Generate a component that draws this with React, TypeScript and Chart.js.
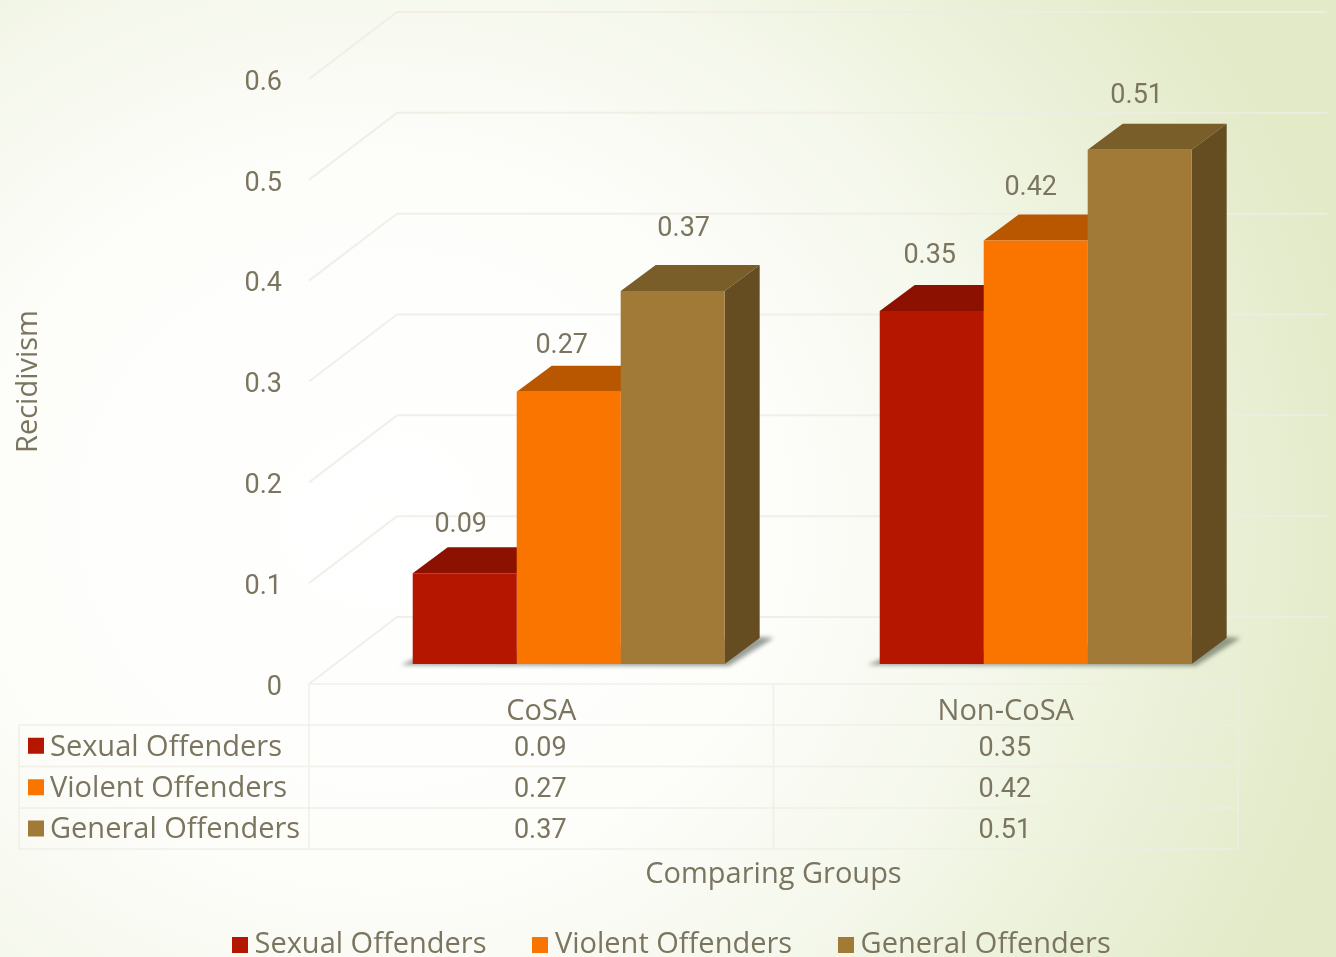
import React, { useEffect, useRef } from "react";
import { Chart, registerables } from "chart.js";

Chart.register(...registerables);

const categories = ["CoSA", "Non-CoSA"];
const sexualOffenders = [0.09, 0.35];
const violentOffenders = [0.27, 0.42];
const generalOffenders = [0.37, 0.51];
const yTicks = [0, 0.1, 0.2, 0.3, 0.4, 0.5, 0.6];

const seriesNames = ["Sexual Offenders", "Violent Offenders", "General Offenders"];
const frontColors = ["#b51600", "#f97500", "#a17a38"];
const topColors = ["#8c1100", "#b95700", "#7a5e2a"];
const sideColors = ["#8c1100", "#b95700", "#654d21"];

const TEXT = "#7b7560";
const GRID = "rgba(238,236,228,0.85)";
const WORD_FONT = "'Open Sans'";
const NUM_FONT = "Roboto";
const WORD_SIZE = 29;
const NUM_SIZE = 27;

// projected depth of the plot floor and of the bars
const WALL = { dx: 88, dy: -67 };
const BAR = { dx: 35, dy: -26 };
const BAR_SHIFT = { x: 26.2, y: -20 };
// label offsets from the top of each bar (dataset, category)
const labelOffsets = [
  [[-4, -48.5], [-2, -55]],
  [[-7, -45.5], [-5, -52.5]],
  [[11, -61.5], [-3, -53.5]],
];

const swatch = (color: string) => {
  const c = document.createElement("canvas");
  c.width = 16;
  c.height = 16;
  const g = c.getContext("2d") as CanvasRenderingContext2D;
  g.fillStyle = color;
  g.fillRect(0, 0, 16, 16);
  return c;
};

const cubePlugin = {
  id: "cube",
  afterLayout(chart: any) {
    const labels = chart.options.plugins.legend.labels;
    chart.legend.top = 958 - 34 - labels.padding + 6;
    chart.legend.left = 239 - labels.padding;
    // the bars sit on a slightly wider hidden band than the data table
    const band = chart.scales.xb;
    band.left = chart.chartArea.left;
    band.right = chart.chartArea.left + 934;
    band.width = 934;
    band.configure();
  },
  beforeDraw(chart: any) {
    const { ctx, chartArea, scales } = chart;
    const y = scales.y;
    ctx.save();
    ctx.strokeStyle = GRID;
    ctx.lineWidth = 2;
    yTicks.forEach((t) => {
      const py = y.getPixelForValue(t);
      ctx.beginPath();
      ctx.moveTo(chartArea.left, py);
      ctx.lineTo(chartArea.left + WALL.dx, py + WALL.dy);
      ctx.lineTo(chartArea.right + WALL.dx + 1, py + WALL.dy);
      ctx.stroke();
    });
    ctx.restore();
  },
  beforeDatasetsDraw(chart: any) {
    const { ctx } = chart;
    ctx.save();
    ctx.translate(BAR_SHIFT.x, BAR_SHIFT.y);
    const count = chart.data.datasets.length;
    // floor shadows
    chart.data.labels.forEach((_: string, c: number) => {
      const first = chart.getDatasetMeta(0).data[c];
      const last = chart.getDatasetMeta(count - 1).data[c];
      const x0 = first.x - first.width / 2;
      const x1 = last.x + last.width / 2;
      const b = first.base;
      ctx.save();
      ctx.filter = "blur(2px)";
      ctx.fillStyle = "rgba(70,80,70,0.55)";
      ctx.beginPath();
      ctx.moveTo(x0 - 12, b + 1);
      ctx.lineTo(x0 + 4, b - 6);
      ctx.lineTo(x1 + BAR.dx, b + BAR.dy - 1);
      ctx.lineTo(x1 + BAR.dx + 14, b + BAR.dy);
      ctx.lineTo(x1 + 4, b + 2);
      ctx.closePath();
      ctx.fill();
      ctx.restore();
    });
    // top and side faces
    chart.data.datasets.forEach((_: any, d: number) => {
      chart.getDatasetMeta(d).data.forEach((bar: any) => {
        const l = bar.x - bar.width / 2;
        const r = bar.x + bar.width / 2;
        ctx.fillStyle = topColors[d];
        ctx.beginPath();
        ctx.moveTo(l, bar.y);
        ctx.lineTo(l + BAR.dx, bar.y + BAR.dy);
        ctx.lineTo(r + BAR.dx, bar.y + BAR.dy);
        ctx.lineTo(r, bar.y);
        ctx.closePath();
        ctx.fill();
        ctx.fillStyle = sideColors[d];
        ctx.beginPath();
        ctx.moveTo(r, bar.y);
        ctx.lineTo(r + BAR.dx, bar.y + BAR.dy);
        ctx.lineTo(r + BAR.dx, bar.base + BAR.dy);
        ctx.lineTo(r, bar.base);
        ctx.closePath();
        ctx.fill();
      });
    });
  },
  afterDatasetsDraw(chart: any) {
    const { ctx } = chart;
    ctx.font = `${NUM_SIZE}px ${NUM_FONT}`;
    ctx.fillStyle = TEXT;
    ctx.textAlign = "center";
    ctx.textBaseline = "middle";
    chart.data.datasets.forEach((ds: any, d: number) => {
      chart.getDatasetMeta(d).data.forEach((bar: any, c: number) => {
        const [ox, oy] = labelOffsets[d][c];
        ctx.fillText(String(ds.data[c]), bar.x + ox, bar.y + oy);
      });
    });
    ctx.restore();
    drawTable(chart);
  },
};

function drawTable(chart: any) {
  const { ctx, chartArea, scales } = chart;
  const xs = [19, chartArea.left, (chartArea.left + chartArea.right) / 2, chartArea.right];
  const ys = [chartArea.bottom, 725, 766.5, 808, 849];
  ctx.save();
  ctx.strokeStyle = GRID;
  ctx.lineWidth = 1.5;
  ctx.beginPath();
  ctx.moveTo(xs[1], ys[0]);
  ctx.lineTo(xs[3], ys[0]);
  ys.slice(1).forEach((py) => {
    ctx.moveTo(xs[0], py);
    ctx.lineTo(xs[3], py);
  });
  [xs[1], xs[2], xs[3]].forEach((px) => {
    ctx.moveTo(px, ys[0]);
    ctx.lineTo(px, ys[4]);
  });
  ctx.moveTo(xs[0], ys[1]);
  ctx.lineTo(xs[0], ys[4]);
  ctx.stroke();

  ctx.textBaseline = "middle";
  chart.data.datasets.forEach((ds: any, d: number) => {
    const mid = (ys[d + 1] + ys[d + 2]) / 2;
    ctx.fillStyle = frontColors[d];
    ctx.fillRect(28, mid - 8, 16, 16);
    ctx.fillStyle = TEXT;
    ctx.textAlign = "left";
    ctx.font = `${WORD_SIZE}px ${WORD_FONT}`;
    ctx.fillText(ds.label, 50, mid + 1.5);
    ctx.textAlign = "center";
    ctx.font = `${NUM_SIZE}px ${NUM_FONT}`;
    ds.data.forEach((v: number, c: number) => {
      ctx.fillText(String(v), scales.x.getPixelForTick(c) - 1, mid + 3);
    });
  });
  ctx.restore();
}

export default function App() {
  const ref = useRef<HTMLCanvasElement>(null);
  useEffect(() => {
    const series = [sexualOffenders, violentOffenders, generalOffenders];
    const chart = new Chart(ref.current as HTMLCanvasElement, {
      type: "bar",
      data: {
        labels: categories,
        datasets: series.map((data, i) => ({
          label: seriesNames[i],
          data,
          xAxisID: "xb",
          backgroundColor: frontColors[i],
          borderWidth: 0,
          categoryPercentage: 0.668,
          barPercentage: 1,
        })),
      },
      plugins: [cubePlugin],
      options: {
        animation: false,
        responsive: false,
        devicePixelRatio: 1,
        layout: { padding: { top: 79, right: 98, left: 0, bottom: 0 } },
        plugins: {
          tooltip: { enabled: false },
          legend: {
            position: "bottom",
            align: "start",
            labels: {
              boxWidth: 1,
              boxHeight: 16,
              padding: 53,
              color: TEXT,
              usePointStyle: true,
              font: { family: WORD_FONT, size: WORD_SIZE },
              generateLabels: (chart: any) =>
                chart.data.datasets.map((ds: any, i: number) => ({
                  text: ds.label,
                  datasetIndex: i,
                  fontColor: TEXT,
                  lineWidth: 0,
                  hidden: false,
                  pointStyle: swatch(frontColors[i]),
                })),
            },
          },
        },
        scales: {
          xb: { type: "category", display: false, offset: true, grid: { display: false } },
          x: {
            type: "category",
            offset: true,
            grid: { display: false },
            border: { display: false },
            ticks: { color: TEXT, font: { family: WORD_FONT, size: WORD_SIZE }, padding: 2, maxRotation: 0 },
            title: {
              display: true,
              text: "Comparing Groups",
              color: TEXT,
              font: { family: WORD_FONT, size: WORD_SIZE },
              padding: { top: 0, bottom: -27.4 },
            },
            afterFit(scale: any) {
              scale.height = 957 - 684 - (scale.chart.legend ? scale.chart.legend.height : 0);
            },
          },
          y: {
            min: 0,
            max: 0.6,
            grid: { display: false },
            border: { display: false },
            ticks: { color: TEXT, stepSize: 0.1, padding: 19, labelOffset: 4, font: { family: NUM_FONT, size: NUM_SIZE } },
            title: {
              display: true,
              text: "Recidivism",
              color: TEXT,
              font: { family: WORD_FONT, size: WORD_SIZE },
              padding: { top: 11, bottom: 0 },
            },
            afterFit(scale: any) {
              scale.width = 309;
            },
          },
        },
      } as any,
    });
    return () => chart.destroy();
  }, []);
  return (
    <div
      style={{
        position: "fixed",
        left: 0,
        top: 0,
        width: 1336,
        height: 957,
        overflow: "hidden",
        background:
          "radial-gradient(ellipse 1000px 900px at 380px 520px, #ffffff 0%, #fdfdfa 40%, #f5f8ec 62%, #eef3de 75%, #e2eac8 100%)",
      }}
    >
      <canvas ref={ref} width={1336} height={957} />
    </div>
  );
}
